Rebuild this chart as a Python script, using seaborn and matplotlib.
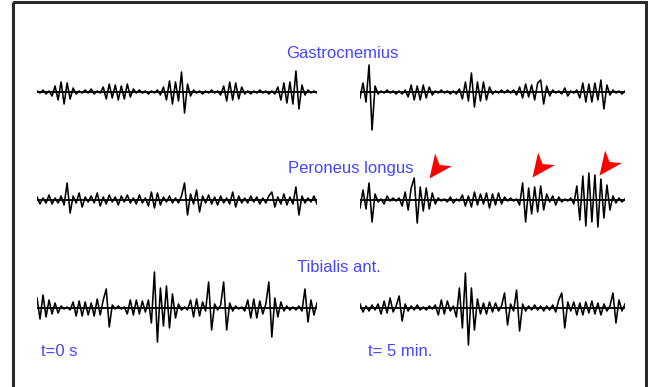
import numpy as np
import matplotlib
matplotlib.use("Agg")
import matplotlib.pyplot as plt
import matplotlib.patches as mpatches
from matplotlib.path import Path
import seaborn as sns

# EMG traces, amplitude in arbitrary units (~pixels)
gas_left = [1, -1, 2, -2, 1,
            -4, 6, -8, 10, -12, 9, -7, 4,
            -2, 1, -1, 2, -1, 3, -2, 1, -1,
            5, -7, 8, -6, 7, -8, 6, -7, 8, -5, 3,
            -1, 2, -1, 1, -2, 1, -1, 2, -3,
            5, -8, 11, -12, 10, -9, 20, -21, 8,
            -4, 2, -1, 1, -2, 1, -1, 2, -1, 1, -3,
            6, -9, 10, -8, 9, -7, 5,
            -2, 1, -2, 1, -1, 2, -1, 1, -2, 1, -2,
            5, -8, 9, -11, 10, -12, 21, -17, 7,
            -3, 2, -1, 1, -1]
gas_right = [-6, 9, -10, 27, -38, 6,
             -2, 1, -1, 2, -1, 1, -2, 1, -2, 2,
             -5, 7, -8, 6, -8, 7, -6, 5, -3,
             1, -1, 2, -1, 1, -2, 1, -2, 3,
             -7, 10, -9, 19, -15, 10, -9, 10, -8, 5,
             -2, 1, -1, 2, -1, 2, -1, 2, -3,
             5, -6, 8, -5, 7, -8, 9, 12, -12, 6, -4,
             2, -1, 1, -2, 4, -4, 1, -1, 2,
             -6, 9, -10, 8, -10, 9, -8, 12, -17, 7,
             -3, 2, -1, 1, -2, 1]
per_left = [3, -4, 2, -3, 5, -4, 2, -3, 4, -5,
            17, -13, 4, -3, 7, -7, 3, -2, 4, -3,
            7, -6, 3, -4, 5, -2, 3, -5, 4, -2,
            5, -3, 2, -4, 5, -3, 2,
            -6, 8, -8, 7, -5,
            3, -2, 4, -3, 2, -3, 4,
            17, -15, 6, -4, 10, -12,
            4, -3, 5, -4, 3, -5, 4, -3, 2, -4,
            8, -7, 4, -3, 2,
            -3, 4, -2, 3, -4, 2, -3, 4, 8, -7,
            3, -4, 6, -5, 3, -4, 13, -15, 4, -3,
            2, -2, 4, -4]
per_right = [-8, 10, -9, 17, -22,
             6, -2, 1, -4, 4, -1, 2, -1, 2,
             -6, 8, -10, 12, 22, -23, 13, -11, 12, -9, 7, -4,
             2, -1, 1, -2, 3, -3, 1, -1,
             5, -6, 4, -7, 8, -5, 6, -4, 7, -8, 6, -5, 7, -4, 3,
             -1, 2, -1, 1,
             -5, 17, -22, 12, -14, 13, -12, 14, -10, 6,
             -2, 4, -5, 3, -2, 1, -1, 2, -4,
             14, -20, 24, -26, 27, -22, 25, -27, 21, -18, 15, -10,
             4, -3, 2, -2, 1]
tib_left = [10, -11, 13, -9, 8, -6,
            5, -5, 2, -1, 1, -2,
            6, -8, 7, -8, 6, -7, 5,
            -8, 9, -7, 8, 19,
            -19, 3, -1, 2, -1, 1,
            -6, 8, -7, 8, -6, 7, -4,
            8, -15, 36, -34, 20, -18, 22, -20, 14, -10,
            4, -2, 1, -2,
            8, -9, 9, -8, 6,
            -3, 26, -22, 4, -2, 3,
            26, -22, 5, -3, 2, -1, 1, -3,
            8, -10, 9, -10, 7, -6, 4,
            26, -29, 10, -9, 6, -3,
            2, -2, 1, -2, 2, -3,
            19, -14, 8, -7, 5]
tib_right = [4, -4, 2, -3, 3, -2, 4,
             -6, 7, -5, 10, -4, 2,
             12, -13,
             4, -3, 2, -2, 3, -2, 1, -2, 2, -1, 3,
             -7, 8, -6, 7, -3, 2,
             -9, 20, -20, 35, -37, 20, -22, 9,
             -6, 5, -6, 6, -4, 5, -3, 2,
             15, -17, 4, -3,
             18, -23,
             4, -3, 2, -2, 3, -2, 2, -3, 2, -2, 3, -4,
             8, 15, -20, 6, -3,
             6, -7, 5, -7, 6, -5, 7, -6, 5, -7, 4,
             -3, 2,
             15, -15, 8, -3, 4]

muscles = ["Gastrocnemius", "Peroneus longus", "Tibialis ant."]
traces = [(gas_left, gas_right), (per_left, per_right), (tib_left, tib_right)]
time_labels = ["t=0 s", "t= 5 min."]
# red arrows marking the bursts (tip positions, pixels)
arrow_x = [429, 532, 599]
arrow_y = [178, 177, 175]

W, H = 648, 387
fig = plt.figure(figsize=(W / 100, H / 100), dpi=100)
fig.patch.set_facecolor("white")

# layout in pixels
baselines = [92, 200, 308]
title_pos = [(342, 54), (351, 168), (339, 267)]
time_pos = [(59, 352), (400, 352)]
cols = [(37, 317), (360, 625)]
half = 40

for row, (left_vals, right_vals) in enumerate(traces):
    for col, vals in enumerate((left_vals, right_vals)):
        x0, x1 = cols[col]
        yb = baselines[row]
        ax = fig.add_axes([x0 / W, (H - yb - half) / H, (x1 - x0) / W, 2 * half / H])
        t = np.arange(len(vals))
        ax.axhline(0, color="#111111", lw=1.4, zorder=1)
        sns.lineplot(x=t, y=vals, ax=ax, color="black", lw=1.15, zorder=2)
        ax.set_xlim(0, len(vals) - 1)
        ax.set_ylim(-half, half)
        ax.axis("off")

# overlay in pixel coordinates for texts, arrows and frame
ov = fig.add_axes([0, 0, 1, 1])
ov.set_xlim(0, W)
ov.set_ylim(H, 0)
ov.axis("off")
ov.patch.set_alpha(0)

blue = "#4646ff"
for name, (tx, ty) in zip(muscles, title_pos):
    ov.text(tx, ty, name, color=blue, fontsize=12, family="Liberation Sans",
            ha="center", va="center")
for lab, (tx, ty) in zip(time_labels, time_pos):
    ov.text(tx, ty, lab, color=blue, fontsize=12, family="Liberation Sans",
            ha="center", va="center")

# notched arrowhead marker, tip at the origin, pointing down-left
d = np.array([0.6, 0.8])
p = np.array([-0.8, 0.6])
head = Path([(0, 0), tuple(d + 0.45 * p), tuple(0.72 * d), tuple(d - 0.45 * p), (0, 0)],
            [Path.MOVETO, Path.LINETO, Path.LINETO, Path.LINETO, Path.CLOSEPOLY])
ov.plot(arrow_x, arrow_y, ls="none", marker=head, markersize=36,
        color="#ff0000", markeredgewidth=0)

# frame (bottom edge is outside the picture)
frame = mpatches.Rectangle((13, 2), 633, 400, fill=False, edgecolor="#2a2a2a", lw=2.2)
ov.add_patch(frame)

fig.savefig("out.png", dpi=100)
